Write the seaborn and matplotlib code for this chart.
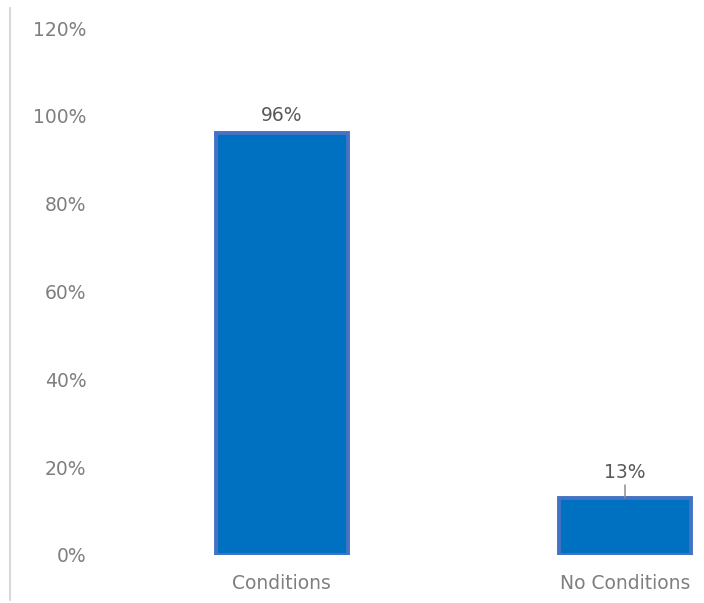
import matplotlib
matplotlib.use("Agg")
import matplotlib.pyplot as plt
import seaborn as sns
import pandas as pd
from matplotlib.lines import Line2D
from matplotlib.ticker import FuncFormatter

categories = ["Conditions", "No Conditions"]
values = [96, 13]
labels = ["96%", "13%"]
yticks = [0, 20, 40, 60, 80, 100, 120]

sns.set_theme(style="white")
plt.rcParams["font.family"] = ["DejaVu Sans"]

fig = plt.figure(figsize=(7.04, 6.03), dpi=100)
ax = fig.add_axes([110/704, 48/603, 594/704, 527/603])

df = pd.DataFrame({"cat": categories, "val": values})
sns.barplot(data=df, x="cat", y="val", ax=ax, color="#0070C0", saturation=1,
            width=0.385, edgecolor="#4472C4", linewidth=2.8)

ax.set_ylim(0, 120)
ax.set_xlim(-0.5, 1.23)
ax.set_yticks(yticks)
ax.yaxis.set_major_formatter(FuncFormatter(lambda v, p: f"{int(v)}%"))
ax.set_xlabel("")
ax.set_ylabel("")
for s in ax.spines.values():
    s.set_visible(False)
ax.tick_params(axis="y", length=0, pad=17, labelsize=13.5, labelcolor="#7F7F7F")
ax.tick_params(axis="x", length=0, pad=14, labelsize=13.5, labelcolor="#7F7F7F")

# data labels
ax.annotate(labels[0], xy=(0, values[0]), xytext=(0, 13), textcoords="offset points",
            ha="center", va="center", fontsize=13.5, color="#595959")
ax.annotate(labels[1], xy=(1, values[1]), xytext=(0, 18.5), textcoords="offset points",
            ha="center", va="center", fontsize=13.5, color="#595959",
            arrowprops=dict(arrowstyle="-", color="#8C8C8C", lw=1.1, shrinkA=0, shrinkB=0))

# left border line
fig.add_artist(Line2D([10/704, 10/704], [3/603, 595/603], color="#D9D9D9", lw=1.5,
                      transform=fig.transFigure))

fig.savefig("out.png", dpi=100)
